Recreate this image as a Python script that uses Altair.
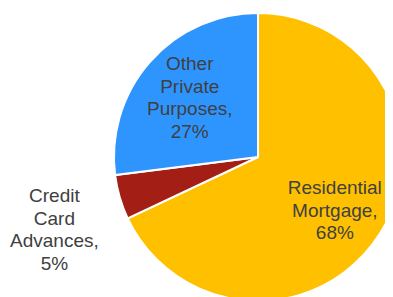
import altair as alt
import pandas as pd

categories = ["Residential Mortgage", "Credit Card Advances", "Other Private Purposes"]
shares = [68, 5, 27]
label_lines = [["Residential", "Mortgage,", "68%"],
               ["Credit", "Card", "Advances,", "5%"],
               ["Other", "Private", "Purposes,", "27%"]]
colors = ["#FFC000", "#A31F16", "#2E95FF"]
inside = [True, False, True]

df = pd.DataFrame({
    "category": categories,
    "share": shares,
    "order": list(range(len(categories))),
    "label": label_lines,
    "inside": inside,
})

CX, CY, R = 250, 149, 144
LH = 22.5

color_scale = alt.Scale(domain=categories, range=colors)
theta_scale = alt.Scale(domain=[0, 100], range=[0, 6.283185307179586])

pie = alt.Chart(df).mark_arc(radius=R, stroke="white", strokeWidth=2, clip=True).encode(
    theta=alt.Theta("share:Q", stack=True, scale=theta_scale),
    order=alt.Order("order:Q"),
    color=alt.Color("category:N", scale=color_scale, legend=None),
    x=alt.value(CX), y=alt.value(CY),
)

labels = alt.Chart(df).transform_window(
    cum="sum(share)", sort=[alt.SortField("order")], frame=[None, 0]
).transform_calculate(
    ang="(datum.cum - datum.share / 2) / 100 * 2 * PI",
    lr="datum.inside ? 91 : 212",
    oy="datum.inside ? (datum.ang < PI ? 5 : 1) : 14",
).transform_calculate(
    lx=f"{CX} + datum.lr * sin(datum.ang)",
    ly=f"{CY} - datum.lr * cos(datum.ang) + datum.oy - (length(datum.label) - 1) * {LH / 2}",
).mark_text(
    font="Liberation Sans", fontSize=19, color="#404040",
    align="center", baseline="middle", lineHeight=LH,
).encode(
    x=alt.X("lx:Q", scale=None),
    y=alt.Y("ly:Q", scale=None),
    text="label",
)

chart = alt.layer(pie, labels).properties(
    width=377, height=289, padding=0, autosize=alt.AutoSizeParams(type="none"),
).configure_view(stroke=None)

chart.save("out.html", embed_options={"renderer": "svg", "actions": False})
